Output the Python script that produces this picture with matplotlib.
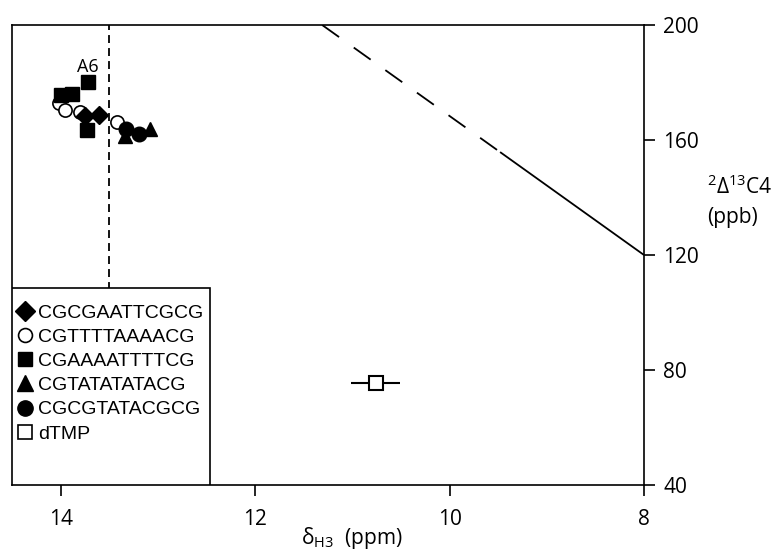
import matplotlib
matplotlib.use("Agg")
import matplotlib.pyplot as plt
from matplotlib.lines import Line2D
from matplotlib.patches import Rectangle

plt.rcParams['mathtext.fontset'] = 'custom'
plt.rcParams['mathtext.rm'] = 'Open Sans'
plt.rcParams['mathtext.it'] = 'Open Sans'

# ---- data ----
cgcgaattcgcg_x = [13.75, 13.61]
cgcgaattcgcg_y = [168.3, 168.6]
cgttttaaaacg_x = [14.02, 13.955, 13.80, 13.42]
cgttttaaaacg_y = [172.9, 170.4, 169.8, 166.3]
cgaaaattttcg_x = [14.00, 13.886, 13.72, 13.73]
cgaaaattttcg_y = [175.6, 176.0, 180.2, 163.4]
cgtatatatacg_x = [13.34, 13.08]
cgtatatatacg_y = [161.5, 164.0]
cgcgtatacgcg_x = [13.33, 13.19]
cgcgtatacgcg_y = [164.0, 162.0]
dtmp_x = [10.76]
dtmp_y = [75.5]
dtmp_xerr = [0.25]

line_dash_x = [11.31, 9.48]
line_dash_y = [200.0, 155.8]
line_solid_x = [9.48, 8.0]
line_solid_y = [155.8, 120.0]
vline_x = 13.5

xticks = [14, 12, 10, 8]
yticks = [40, 80, 120, 160, 200]
legend_labels = ["CGCGAATTCGCG", "CGTTTTAAAACG", "CGAAAATTTTCG",
                 "CGTATATATACG", "CGCGTATACGCG", "dTMP"]

tick_font = "Open Sans"
leg_font = "Liberation Sans"

fig = plt.figure(figsize=(7.79, 5.5), dpi=100)
ax = fig.add_axes([12/779, 1-485/550, (644-12)/779, (485-25)/550])

ax.set_xlim(14.5, 8)
ax.set_ylim(40, 200)

ms = 9.5
ax.plot(cgttttaaaacg_x, cgttttaaaacg_y, 'o', mfc='white', mec='black', mew=1.2, ms=ms, ls='none', zorder=3)
ax.plot(cgcgaattcgcg_x, cgcgaattcgcg_y, 'D', color='black', ms=ms, ls='none', zorder=4)
ax.plot(cgaaaattttcg_x, cgaaaattttcg_y, 's', color='black', ms=ms, ls='none', zorder=4)
ax.plot(cgtatatatacg_x, cgtatatatacg_y, '^', color='black', ms=ms+1, ls='none', zorder=4)
ax.plot(cgcgtatacgcg_x, cgcgtatacgcg_y, 'o', color='black', ms=ms+1, ls='none', zorder=5)
ax.errorbar(dtmp_x, dtmp_y, xerr=dtmp_xerr, fmt='s', mfc='white', mec='black',
            ecolor='black', elinewidth=1.5, mew=1.5, ms=ms, capsize=0, zorder=4)

ax.plot(line_dash_x, line_dash_y, color='black', lw=1.3, dashes=(11.5, 10))
ax.plot(line_solid_x, line_solid_y, color='black', lw=1.3, solid_capstyle='butt')
ax.axvline(vline_x, color='black', lw=1.3, dashes=(4.4, 2.8), zorder=2)

ax.text(13.72, 185.5, "A6", ha='center', va='center', fontsize=13, family=tick_font)

ax.yaxis.tick_right()
ax.set_xticks(xticks)
ax.set_yticks(yticks)
ax.tick_params(axis='both', direction='out', length=8, width=1.2, labelsize=15)
ax.tick_params(axis='x', pad=9)
ax.tick_params(axis='y', pad=6)
for lab in ax.get_xticklabels() + ax.get_yticklabels():
    lab.set_family(tick_font)
for s in ax.spines.values():
    s.set_linewidth(1.2)

# legend box
ax.add_patch(Rectangle((0, 0), (210-12)/632, (485-288)/460, transform=ax.transAxes,
                       facecolor='white', edgecolor='black', lw=1.2, zorder=6))

handles = [
    Line2D([], [], marker='D', color='black', ls='none', ms=10.5),
    Line2D([], [], marker='o', mfc='white', mec='black', mew=1.2, ls='none', ms=10),
    Line2D([], [], marker='s', color='black', ls='none', ms=10),
    Line2D([], [], marker='^', color='black', ls='none', ms=11),
    Line2D([], [], marker='o', color='black', ls='none', ms=11),
    Line2D([], [], marker='s', mfc='white', mec='black', mew=1.2, ls='none', ms=10),
]
leg = ax.legend(handles, legend_labels, loc='upper left',
                bbox_to_anchor=((19-12)/632, (485-304)/460),
                borderaxespad=0, frameon=False, borderpad=0,
                handlelength=0.6, handletextpad=0.4, labelspacing=0.34,
                prop={'family': leg_font, 'size': 14})
leg.set_zorder(7)

fig.text(707/779, 1-187/550, r"$^{2}\Delta^{13}$C4", fontsize=15, family=tick_font,
         ha='left', va='center')
fig.text(707/779, 1-217/550, "(ppb)", fontsize=15, family=tick_font, ha='left', va='center')
fig.text(352/779, 1-538/550, r"δ$_{\mathrm{H3}}$  (ppm)", fontsize=15, family=tick_font,
         ha='center', va='center')

fig.savefig("out.png", dpi=100)
